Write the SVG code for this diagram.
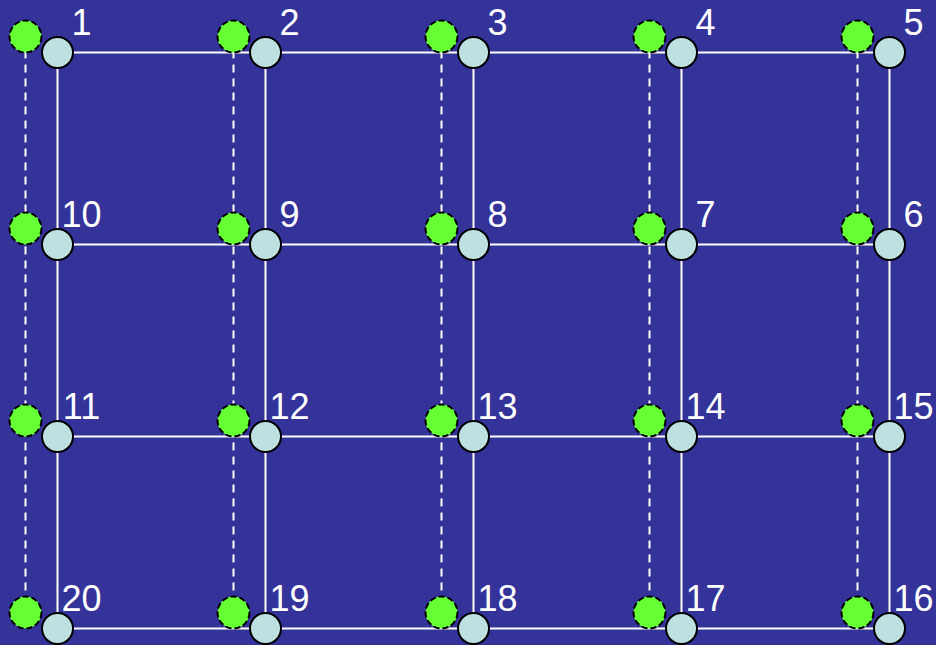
<svg xmlns="http://www.w3.org/2000/svg" width="936" height="645" viewBox="0 0 936 645">
<style>
.bg{fill:#333399}
.ln{stroke:#ffffff;stroke-width:2;fill:none}
.dl{stroke:#ffffff;stroke-width:2;fill:none;stroke-dasharray:8,6}
.bn{fill:#bfe0e0;stroke:#000000;stroke-width:2}
.gn{fill:#66ff33;stroke:#000000;stroke-width:2;stroke-dasharray:6,3}
.lb{fill:#ffffff;font-family:"Liberation Sans",Arial,sans-serif;font-size:36px;text-anchor:middle}
</style>
<rect class="bg" x="0" y="0" width="936" height="645"/>
<g id="connectors">
<line class="ln" x1="57.5" y1="52.5" x2="889.5" y2="52.5"/>
<line class="ln" x1="57.5" y1="244.5" x2="889.5" y2="244.5"/>
<line class="ln" x1="57.5" y1="436.5" x2="889.5" y2="436.5"/>
<line class="ln" x1="57.5" y1="628.5" x2="889.5" y2="628.5"/>
<line class="ln" x1="57.5" y1="52.5" x2="57.5" y2="628.5"/>
<line class="ln" x1="265.5" y1="52.5" x2="265.5" y2="628.5"/>
<line class="ln" x1="473.5" y1="52.5" x2="473.5" y2="628.5"/>
<line class="ln" x1="681.5" y1="52.5" x2="681.5" y2="628.5"/>
<line class="ln" x1="889.5" y1="52.5" x2="889.5" y2="628.5"/>
<line class="dl" x1="25.5" y1="36.5" x2="25.5" y2="612.5"/>
<line class="dl" x1="233.5" y1="36.5" x2="233.5" y2="612.5"/>
<line class="dl" x1="441.5" y1="36.5" x2="441.5" y2="612.5"/>
<line class="dl" x1="649.5" y1="36.5" x2="649.5" y2="612.5"/>
<line class="dl" x1="857.5" y1="36.5" x2="857.5" y2="612.5"/>
</g>
<g id="green-nodes">
<g id="g1"><circle class="gn" cx="25.5" cy="36.5" r="16"/></g>
<g id="g2"><circle class="gn" cx="233.5" cy="36.5" r="16"/></g>
<g id="g3"><circle class="gn" cx="441.5" cy="36.5" r="16"/></g>
<g id="g4"><circle class="gn" cx="649.5" cy="36.5" r="16"/></g>
<g id="g5"><circle class="gn" cx="857.5" cy="36.5" r="16"/></g>
<g id="g10"><circle class="gn" cx="25.5" cy="228.5" r="16"/></g>
<g id="g9"><circle class="gn" cx="233.5" cy="228.5" r="16"/></g>
<g id="g8"><circle class="gn" cx="441.5" cy="228.5" r="16"/></g>
<g id="g7"><circle class="gn" cx="649.5" cy="228.5" r="16"/></g>
<g id="g6"><circle class="gn" cx="857.5" cy="228.5" r="16"/></g>
<g id="g11"><circle class="gn" cx="25.5" cy="420.5" r="16"/></g>
<g id="g12"><circle class="gn" cx="233.5" cy="420.5" r="16"/></g>
<g id="g13"><circle class="gn" cx="441.5" cy="420.5" r="16"/></g>
<g id="g14"><circle class="gn" cx="649.5" cy="420.5" r="16"/></g>
<g id="g15"><circle class="gn" cx="857.5" cy="420.5" r="16"/></g>
<g id="g20"><circle class="gn" cx="25.5" cy="612.5" r="16"/></g>
<g id="g19"><circle class="gn" cx="233.5" cy="612.5" r="16"/></g>
<g id="g18"><circle class="gn" cx="441.5" cy="612.5" r="16"/></g>
<g id="g17"><circle class="gn" cx="649.5" cy="612.5" r="16"/></g>
<g id="g16"><circle class="gn" cx="857.5" cy="612.5" r="16"/></g>
</g>
<g id="nodes">
<g id="n1"><circle class="bn" cx="57.5" cy="52.5" r="15.5"/><text class="lb" x="81.5" y="34.5">1</text></g>
<g id="n2"><circle class="bn" cx="265.5" cy="52.5" r="15.5"/><text class="lb" x="289.5" y="34.5">2</text></g>
<g id="n3"><circle class="bn" cx="473.5" cy="52.5" r="15.5"/><text class="lb" x="497.5" y="34.5">3</text></g>
<g id="n4"><circle class="bn" cx="681.5" cy="52.5" r="15.5"/><text class="lb" x="705.5" y="34.5">4</text></g>
<g id="n5"><circle class="bn" cx="889.5" cy="52.5" r="15.5"/><text class="lb" x="913.5" y="34.5">5</text></g>
<g id="n10"><circle class="bn" cx="57.5" cy="244.5" r="15.5"/><text class="lb" x="81.5" y="226.5">10</text></g>
<g id="n9"><circle class="bn" cx="265.5" cy="244.5" r="15.5"/><text class="lb" x="289.5" y="226.5">9</text></g>
<g id="n8"><circle class="bn" cx="473.5" cy="244.5" r="15.5"/><text class="lb" x="497.5" y="226.5">8</text></g>
<g id="n7"><circle class="bn" cx="681.5" cy="244.5" r="15.5"/><text class="lb" x="705.5" y="226.5">7</text></g>
<g id="n6"><circle class="bn" cx="889.5" cy="244.5" r="15.5"/><text class="lb" x="913.5" y="226.5">6</text></g>
<g id="n11"><circle class="bn" cx="57.5" cy="436.5" r="15.5"/><text class="lb" x="81.5" y="418.5">11</text></g>
<g id="n12"><circle class="bn" cx="265.5" cy="436.5" r="15.5"/><text class="lb" x="289.5" y="418.5">12</text></g>
<g id="n13"><circle class="bn" cx="473.5" cy="436.5" r="15.5"/><text class="lb" x="497.5" y="418.5">13</text></g>
<g id="n14"><circle class="bn" cx="681.5" cy="436.5" r="15.5"/><text class="lb" x="705.5" y="418.5">14</text></g>
<g id="n15"><circle class="bn" cx="889.5" cy="436.5" r="15.5"/><text class="lb" x="913.5" y="418.5">15</text></g>
<g id="n20"><circle class="bn" cx="57.5" cy="628.5" r="15.5"/><text class="lb" x="81.5" y="610.5">20</text></g>
<g id="n19"><circle class="bn" cx="265.5" cy="628.5" r="15.5"/><text class="lb" x="289.5" y="610.5">19</text></g>
<g id="n18"><circle class="bn" cx="473.5" cy="628.5" r="15.5"/><text class="lb" x="497.5" y="610.5">18</text></g>
<g id="n17"><circle class="bn" cx="681.5" cy="628.5" r="15.5"/><text class="lb" x="705.5" y="610.5">17</text></g>
<g id="n16"><circle class="bn" cx="889.5" cy="628.5" r="15.5"/><text class="lb" x="913.5" y="610.5">16</text></g>
</g>
</svg>
